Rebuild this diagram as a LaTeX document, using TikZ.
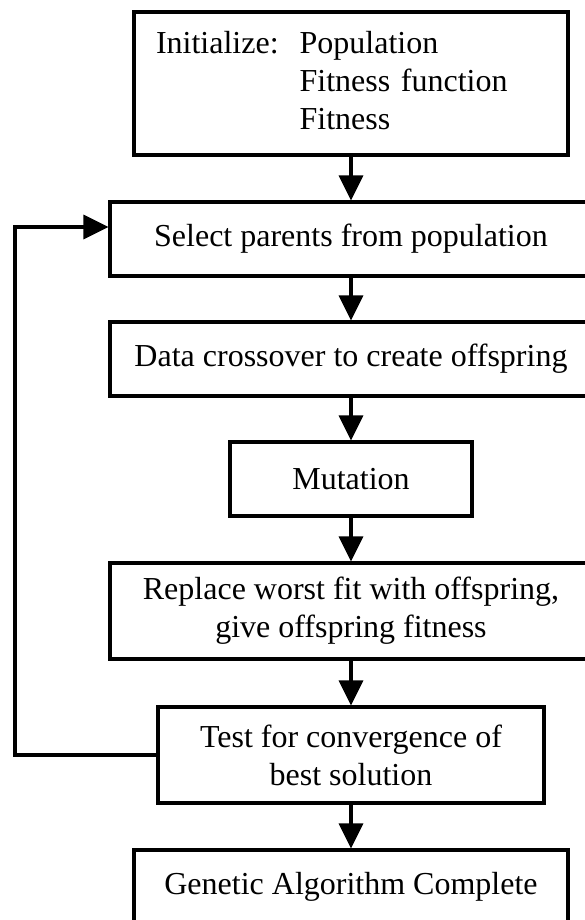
\documentclass[tikz,border=0pt]{standalone}
\usepackage{fontspec}
\setmainfont{Liberation Serif}
\usetikzlibrary{arrows.meta}

\begin{document}
\begin{tikzpicture}[x=1pt,y=-1pt,line width=3.2pt,>={Triangle[length=25pt,width=24pt]}]
\tikzset{box/.style={draw,rectangle,inner sep=0pt,minimum height=74pt,align=center,
    font=\fontsize{32}{38}\selectfont},
  flow/.style={->}}
\useasboundingbox (0,0) rectangle (584,920);
% ---------- steps of the algorithm, top to bottom ----------
\node[box,text width=390pt,inner xsep=22pt,align=left,minimum height=143pt] (init) at (351,83.5)
  {\noindent\begin{tabular}{@{}l@{\hspace{21pt}}l@{}}
   Initialize: & Population\\
               & Fitness function\\
               & Fitness
   \end{tabular}};
\node[box,minimum width=482pt] (sel) at (351,239) {Select parents from population};
\node[box,minimum width=482pt] (cross) at (351,359) {Data crossover to create offspring};
\node[box,minimum width=242pt] (mut) at (351,479) {Mutation};
\node[box,minimum width=482pt,minimum height=96pt] (repl) at (351,611)
  {Replace worst fit with offspring,\\ give offspring fitness};
\node[box,minimum width=386pt,minimum height=96pt] (test) at (351,755)
  {Test for convergence of\\ best solution};
\node[box,minimum width=434pt] (done) at (351,887) {Genetic Algorithm Complete};
% ---------- arrows down ----------
\foreach \a/\b in {init/sel,sel/cross,cross/mut,mut/repl,repl/test,test/done}{ \draw[flow] (\a) -- (\b); }
% ---------- loop back to selection ----------
\coordinate (back) at (15,227);
\draw[flow] (test.west) -| (back) -- (sel.west |- back);
\end{tikzpicture}
\end{document}
